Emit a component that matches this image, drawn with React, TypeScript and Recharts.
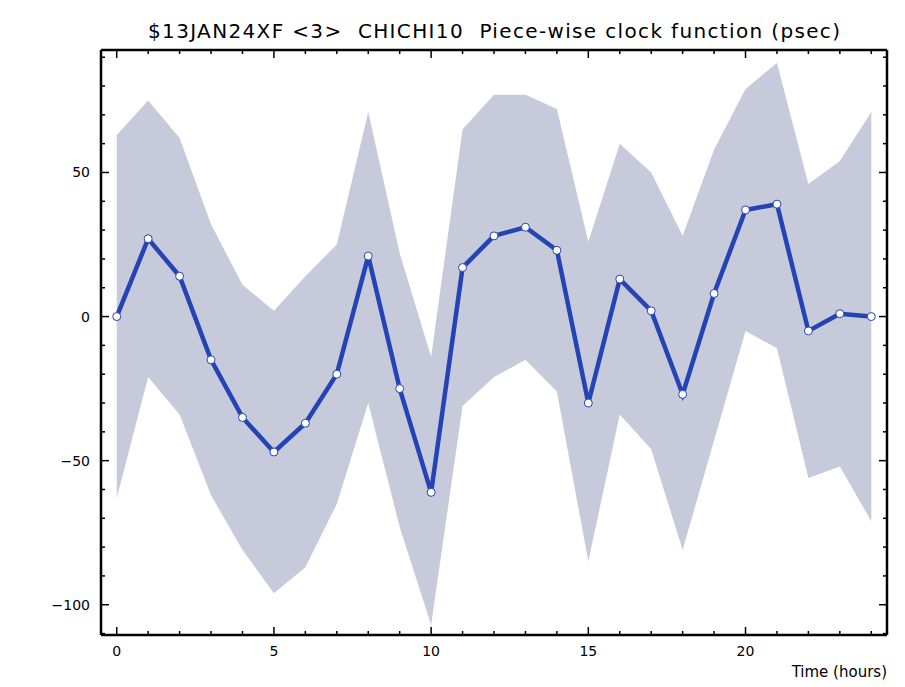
import React from "react";
import { ComposedChart, Area, Line, XAxis, YAxis } from "recharts";

const HOURS = [0, 1, 2, 3, 4, 5, 6, 7, 8, 9, 10, 11, 12, 13, 14, 15, 16, 17, 18, 19, 20, 21, 22, 23, 24];
const CLOCK = [0, 27, 14, -15, -35, -47, -37, -20, 21, -25, -61, 17, 28, 31, 23, -30, 13, 2, -27, 8, 37, 39, -5, 1, 0];
const BAND_HI = [63, 75, 62, 32, 11, 2, 14, 25, 71, 22, -14, 65, 77, 77, 72, 26, 60, 50, 28, 58, 79, 88, 46, 54, 71];
const BAND_LO = [-63, -21, -34, -62, -81, -96, -87, -65, -30, -73, -107, -31, -21, -15, -26, -85, -34, -46, -81, -43, -5, -11, -56, -52, -71];

const X_TICKS = [0, 1, 2, 3, 4, 5, 6, 7, 8, 9, 10, 11, 12, 13, 14, 15, 16, 17, 18, 19, 20, 21, 22, 23, 24];
const Y_TICKS = [-110, -100, -90, -80, -70, -60, -50, -40, -30, -20, -10, 0, 10, 20, 30, 40, 50, 60, 70, 80, 90];

const TITLE = "$13JAN24XF <3>  CHICHI10  Piece-wise clock function (psec)";
const X_LABEL = "Time (hours)";

const LINE_BLUE = "#2443b5";
const BAND_FILL = "#c7cadb";
const FONT = "DejaVu Sans, sans-serif";

const data = HOURS.map((h, i) => ({
  hour: h,
  clock: CLOCK[i],
  band: [BAND_LO[i], BAND_HI[i]],
}));

const fmt = (v: number) => (v < 0 ? "\u2212" + Math.abs(v) : String(v));

// ticks point into the plot, labels only on the major ones
const BottomTick = ({ x, y, payload }: any) => {
  const major = payload.value % 5 === 0;
  return (
    <g>
      <line x1={x} x2={x} y1={y} y2={y - (major ? 8 : 4)} stroke="#000" strokeWidth={1.5} />
      {major && (
        <text x={x} y={y + 21} textAnchor="middle" fontFamily={FONT} fontSize={14} fill="#000">
          {fmt(payload.value)}
        </text>
      )}
    </g>
  );
};

const TopTick = ({ x, y, payload }: any) => {
  const major = payload.value % 5 === 0;
  return <line x1={x} x2={x} y1={y} y2={y + (major ? 8 : 4)} stroke="#000" strokeWidth={1.5} />;
};

const LeftTick = ({ x, y, payload }: any) => {
  const major = payload.value % 50 === 0;
  return (
    <g>
      <line x1={x} x2={x + (major ? 8 : 4)} y1={y} y2={y} stroke="#000" strokeWidth={1.5} />
      {major && (
        <text x={x - 11} y={y + 5} textAnchor="end" fontFamily={FONT} fontSize={14} fill="#000">
          {fmt(payload.value)}
        </text>
      )}
    </g>
  );
};

const RightTick = ({ x, y, payload }: any) => {
  const major = payload.value % 50 === 0;
  return <line x1={x} x2={x - (major ? 8 : 4)} y1={y} y2={y} stroke="#000" strokeWidth={1.5} />;
};

const frame = { stroke: "#000", strokeWidth: 2.5 };

export default function App() {
  return (
    <div style={{ position: "absolute", left: 0, top: 0, width: 905, height: 687, background: "#fff" }}>
      <ComposedChart
        width={905}
        height={687}
        data={data}
        margin={{ top: 49, right: 17, bottom: 51, left: 100 }}
      >
        <XAxis
          dataKey="hour"
          type="number"
          domain={[-0.5, 24.5]}
          allowDataOverflow
          ticks={X_TICKS}
          interval={0}
          height={1}
          tickSize={0}
          tickMargin={0}
          tickLine={false}
          tick={<BottomTick />}
          axisLine={frame}
        />
        <XAxis
          xAxisId="top"
          orientation="top"
          dataKey="hour"
          type="number"
          domain={[-0.5, 24.5]}
          allowDataOverflow
          ticks={X_TICKS}
          interval={0}
          height={1}
          tickSize={0}
          tickMargin={0}
          tickLine={false}
          tick={<TopTick />}
          axisLine={frame}
        />
        <YAxis
          type="number"
          domain={[-110.5, 92.5]}
          allowDataOverflow
          ticks={Y_TICKS}
          interval={0}
          width={1}
          tickSize={0}
          tickMargin={0}
          tickLine={false}
          tick={<LeftTick />}
          axisLine={frame}
        />
        <YAxis
          yAxisId="right"
          orientation="right"
          type="number"
          domain={[-110.5, 92.5]}
          allowDataOverflow
          ticks={Y_TICKS}
          interval={0}
          width={1}
          tickSize={0}
          tickMargin={0}
          tickLine={false}
          tick={<RightTick />}
          axisLine={frame}
        />
        <Area
          type="linear"
          dataKey="band"
          fill={BAND_FILL}
          fillOpacity={1}
          stroke="none"
          isAnimationActive={false}
          activeDot={false}
        />
        <Line
          type="linear"
          dataKey="clock"
          stroke={LINE_BLUE}
          strokeWidth={4.5}
          dot={{ r: 4, fill: "#fff", stroke: LINE_BLUE, strokeWidth: 1 }}
          activeDot={false}
          isAnimationActive={false}
        />
        <text
          x={494}
          y={38}
          textAnchor="middle"
          fontFamily={FONT}
          fontSize={20}
          textLength={692}
          lengthAdjust="spacing"
          fill="#000"
          style={{ whiteSpace: "pre" }}
        >
          {TITLE}
        </text>
        <text x={887} y={677} textAnchor="end" fontFamily={FONT} fontSize={15} fill="#000">
          {X_LABEL}
        </text>
      </ComposedChart>
    </div>
  );
}
